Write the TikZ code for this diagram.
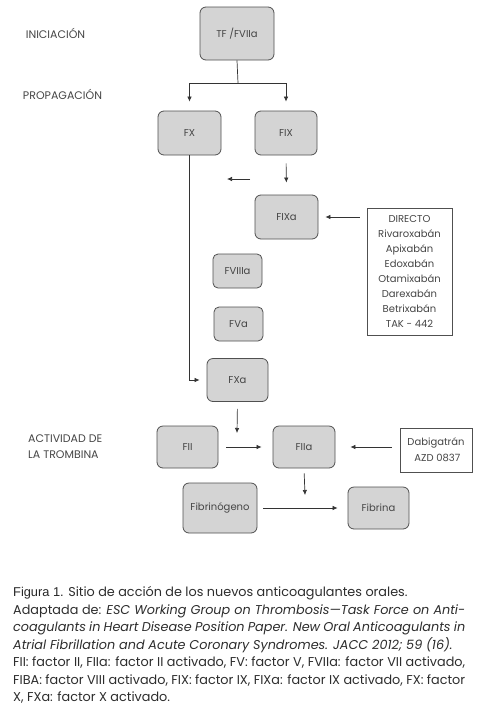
\documentclass[tikz,border=0pt]{standalone}
\usepackage{fontspec}
\setmainfont{Poppins}
\newfontfamily\headfont{Liberation Sans}
\usetikzlibrary{arrows.meta}
\definecolor{boxfill}{RGB}{212,212,212}
\definecolor{boxline}{RGB}{80,80,80}
\definecolor{txt}{RGB}{70,70,70}
\definecolor{captxt}{RGB}{45,45,45}
\tikzset{
  fbox/.style={draw=boxline, fill=boxfill, line width=0.8pt, rounded corners=6pt,
    inner sep=0pt, font=\fontsize{10}{12}\selectfont, text=txt},
  drugbox/.style={draw=boxline, line width=0.6pt, inner sep=0pt, fill=white,
    text=txt, align=center},
  lbl/.style={font=\fontsize{11}{16}\selectfont, text=txt, inner sep=0pt},
  conn/.style={draw=black!80, line width=0.7pt},
  arr/.style={conn, -{Latex[length=5pt,width=4.5pt]}},
  capline/.style={anchor=base west, inner sep=0pt, text=captxt, font=\fontsize{12.8}{14}\selectfont}
}
\begin{document}
\begin{tikzpicture}[x=1pt,y=-1pt]
\useasboundingbox[fill=white] (0,0) rectangle (479,713);
% labels
\node[lbl] (ini) at (55.5,33) {INICIACIÓN};
\node[lbl] (prop) at (62.5,94) {PROPAGACIÓN};
\node[lbl, anchor=west, align=left] (act) at (28,447) {ACTIVIDAD DE\\LA TROMBINA};
% boxes
\node[fbox, minimum width=74pt, minimum height=53pt] (tf) at (237,33.5) {TF /FVIIa};
\node[fbox, minimum width=63pt, minimum height=44pt] (fx) at (189.5,133) {FX};
\node[fbox, minimum width=62pt, minimum height=44pt] (fix) at (286,133) {FIX};
\node[fbox, minimum width=63pt, minimum height=44pt] (fixa) at (286.5,217) {FIXa};
\node[fbox, minimum width=49pt, minimum height=34pt, rounded corners=5pt] (fviiia) at (237.5,271) {FVIIIa};
\node[fbox, minimum width=49pt, minimum height=34pt, rounded corners=5pt] (fva) at (238.5,324) {FVa};
\node[fbox, minimum width=61pt, minimum height=43pt] (fxa) at (237.5,380) {FXa};
\node[fbox, minimum width=61pt, minimum height=42pt] (fii) at (187.5,447) {FII};
\node[fbox, minimum width=62pt, minimum height=42pt] (fiia) at (304,447) {FIIa};
\node[fbox, minimum width=74pt, minimum height=50pt] (fibg) at (220,508) {Fibrinógeno};
\node[fbox, minimum width=61pt, minimum height=42pt] (fib) at (378.5,508) {Fibrina};
\node[drugbox, minimum width=85pt, minimum height=127pt,
  font=\fontsize{10}{15.1}\selectfont] (dir) at (409.5,271.5)
  {DIRECTO\\Rivaroxabán\\Apixabán\\Edoxabán\\Otamixabán\\Darexabán\\Betrixabán\\TAK - 442};
\node[drugbox, minimum width=72pt, minimum height=44pt,
  font=\fontsize{10}{16}\selectfont] (dab) at (436,450) {Dabigatrán\\\ AZD 0837};
% coordinates
\coordinate (j) at (238,83);
\coordinate (la1) at (250,179);
\coordinate (la2) at (227,179);
\coordinate (xa) at (237,433);
\coordinate (iia) at (305,495);
% connectors
\draw[conn] (tf.south) -- (j);
\draw[arr, shorten >=9pt] (j) -| (fx.north);
\draw[arr, shorten >=9pt] (j) -| (fix.north);
\draw[arr, shorten <=8pt, shorten >=12pt] (fix.south) -- (fixa.north);
\draw[arr] (la1) -- (la2);
\draw[arr, shorten >=7pt] (fx.south) |- (fxa.west);
\draw[arr, shorten <=7pt] (dir.west |- fixa.east) -- ([xshift=7pt]fixa.east);
\draw[arr, shorten <=7pt] (fxa.south) -- (xa);
\draw[arr, shorten <=8pt, shorten >=11pt] (fii.east) -- (fiia.west);
\draw[arr, shorten <=8pt, shorten >=15pt] (dab.west |- fiia.east) -- (fiia.east);
\draw[arr, shorten <=5pt] (fiia.south) -- (iia);
\draw[arr, shorten <=6pt, shorten >=10pt] (fibg.east) -- (fib.west);
% caption
\node[capline] (c1) at (13,596.5) {{\headfont\color{black!85}Figura 1.} Sitio de acción de los nuevos anticoagulantes orales.};
\node[capline] (c2) at (13,614) {\makebox[452pt][s]{Adaptada de: \textit{ESC Working Group on Thrombosis---Task Force on Anti-}}};
\node[capline] (c3) at (13,631.5) {\makebox[452pt][s]{\textit{coagulants in Heart Disease Position Paper. New Oral Anticoagulants in}}};
\node[capline] (c4) at (13,649) {\textit{Atrial Fibrillation and Acute Coronary Syndromes. JACC 2012; 59 (16).}};
\node[capline] (c5) at (13,666.5) {\makebox[452pt][s]{FII: factor II, FIIa: factor II activado, FV: factor V, FVIIa: factor VII activado,}};
\node[capline] (c6) at (13,684) {\makebox[452pt][s]{FIBA: factor VIII activado, FIX: factor IX, FIXa: factor IX activado, FX: factor}};
\node[capline] (c7) at (13,701.5) {X, FXa: factor X activado.};
\end{tikzpicture}
\end{document}
